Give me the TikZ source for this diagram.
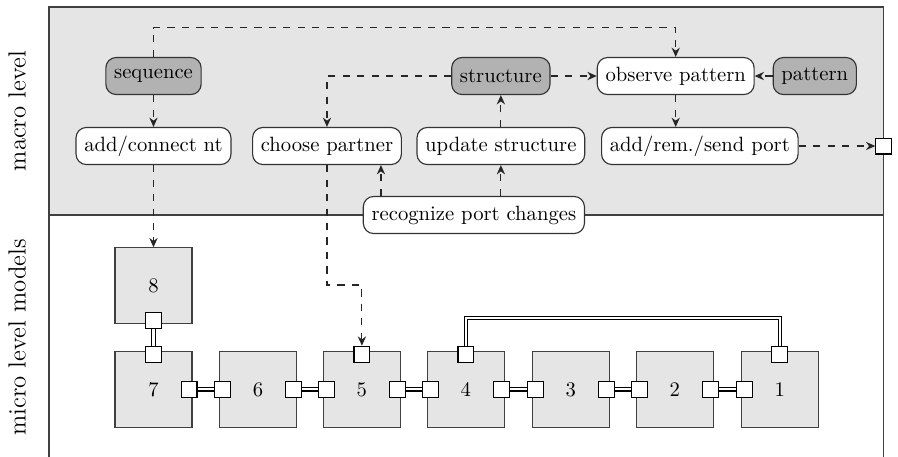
\documentclass[tikz,border=0pt]{standalone}
\usetikzlibrary{arrows.meta}

\tikzset{
  task/.style={rectangle, rounded corners=5pt, draw=black!80, fill=white, minimum height=0.63cm, inner xsep=4pt},
  store/.style={task, fill=black!30},
  model/.style={rectangle, draw=black!75, fill=black!10, minimum width=1.31cm, minimum height=1.28cm},
  port/.style={rectangle, draw=black, fill=white, minimum size=0.27cm, inner sep=0pt},
  flow/.style={-{Stealth[length=4.5pt,width=4pt]}, dash pattern=on 3.5pt off 3.5pt, black!85},
  link/.style={double, double distance=1pt, line width=0.6pt}
}

\begin{document}
\begin{tikzpicture}[line width=0.55pt]
\useasboundingbox (0,0) rectangle (15.27,7.77);

% levels
\draw [black!75, fill=black!10] (0.833,4.114) rectangle (15.028,7.65);
\draw [black!75] (0.833,4.114) -- (0.833,0);
\draw [black!75] (15.028,4.114) -- (15.028,0);
\node[rotate=90, font=\large] (mac) at (0.29,5.88) {macro level};
\node[rotate=90, font=\large] (mic) at (0.29,2.03) {micro level models};

% macro level
\node[store] (seq) at (2.61,6.477) {sequence};
\node[store] (str) at (8.517,6.477) {structure};
\node[task] (obs) at (11.49,6.477) {observe pattern};
\node[store] (pat) at (13.855,6.477) {pattern};
\node[task] (add) at (2.61,5.287) {add/connect nt};
\node[task] (cho) at (5.56,5.287) {choose partner};
\node[task] (upd) at (8.517,5.287) {update structure};
\node[task] (rem) at (11.9,5.287) {add/rem./send port};
\node[port] (out) at (15.028,5.287) {};
\node[task] (rec) at (8.058,4.114) {recognize port changes};

% micro level
\node[model] (b8) at (2.61,2.9155) {8};
\foreach \n/\x in {7/2.61, 6/4.386, 5/6.154, 4/7.922, 3/9.707, 2/11.475, 1/13.26}
  \node[model] (b\n) at (\x,1.1475) {\n};

\node[port] (p8b) at ([yshift=0.05cm]b8.south) {};
\node[port] (p7t) at ([yshift=-0.05cm]b7.north) {};
\node[port] (p5t) at ([yshift=-0.05cm]b5.north) {};
\node[port] (p4t) at ([yshift=-0.05cm]b4.north) {};
\node[port] (p1t) at ([yshift=-0.05cm]b1.north) {};
\foreach \n in {7,6,5,4,3,2}
  \node[port] (r\n) at ([xshift=-0.06cm]b\n.east) {};
\foreach \n in {6,5,4,3,2,1}
  \node[port] (l\n) at ([xshift=0.06cm]b\n.west) {};

\draw [link] (p8b.south) -- (p7t.north);
\foreach \a/\b in {7/6, 6/5, 5/4, 4/3, 3/2, 2/1}
  \draw [link] (r\a.east) -- (l\b.west);
\draw [link] (p4t.north) -- ++(0,0.47) -| (p1t.north);

% flows
\draw [flow] (seq.north) -- ++(0,0.5) -| (obs.north);
\draw [flow] (seq) -- (add);
\draw [flow] (add) -- (b8);
\draw [flow] (str) -| (cho);
\draw [flow] (str) -- (obs);
\draw [flow] (pat) -- (obs);
\draw [flow] (obs.south) -- (obs.south |- rem.north);
\draw [flow] (upd) -- (str);
\draw [flow] (rem) -- (out);
\draw [flow] (rec.north -| upd) -- (upd);
\coordinate (r1) at ([xshift=0.31cm]rec.north west);
\draw [flow] (r1) -- (r1 |- cho.south);
\coordinate (bend) at (6.154,2.924);
\draw [flow] (cho) |- (bend) -| (p5t);

\end{tikzpicture}
\end{document}
